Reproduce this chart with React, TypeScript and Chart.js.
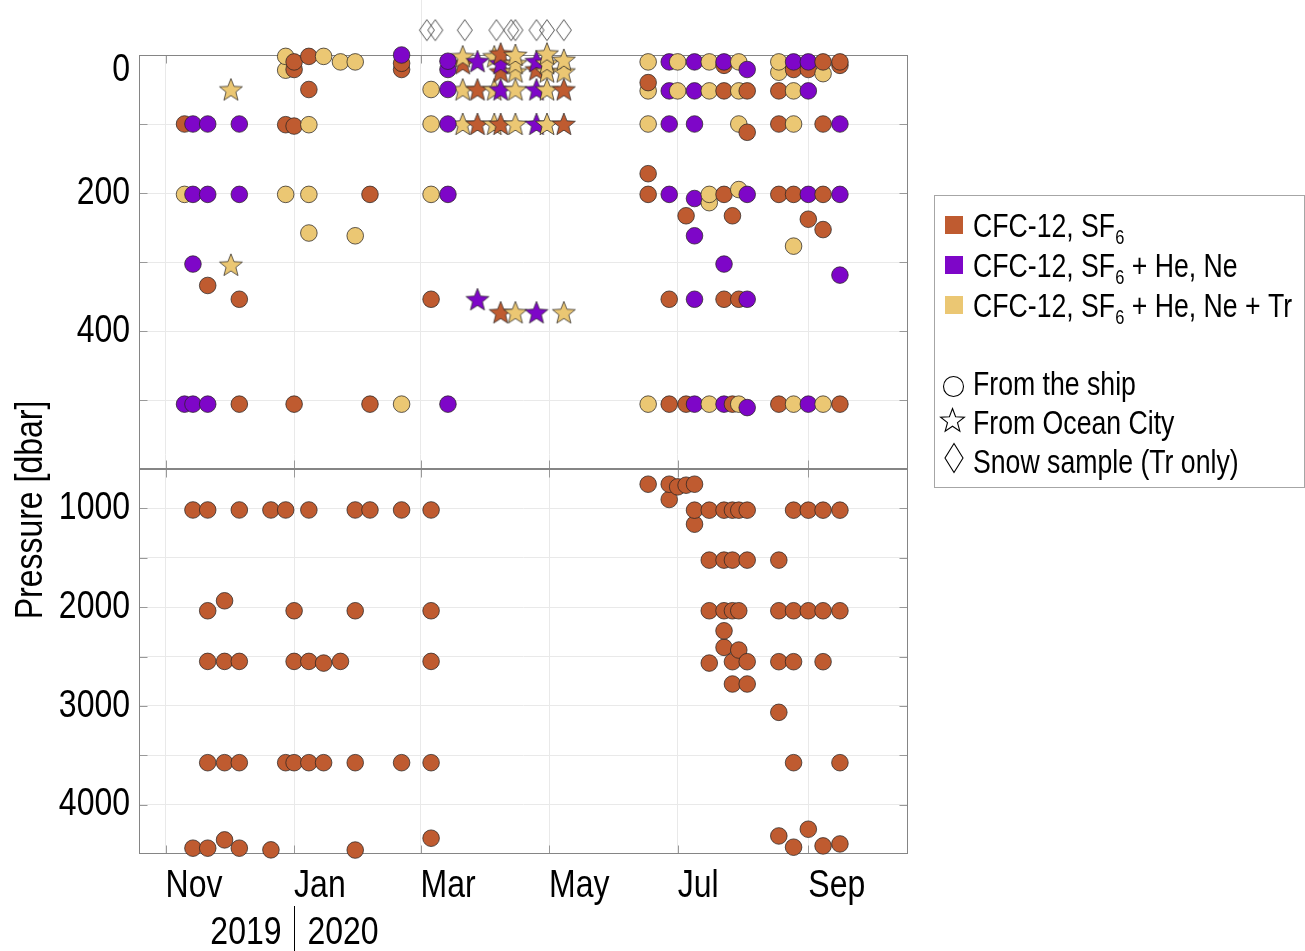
import React, { useEffect, useRef } from 'react';
import { Chart, registerables } from 'chart.js';

Chart.register(...registerables);

type Sample = [string, number];

// ---------------- data (date, pressure in dbar) ----------------
// Ship samples (circles)
const shipCfc: Sample[] = [
  ['2019-11-10', 100], ['2019-11-21', 334], ['2019-12-06', 354], ['2019-12-06', 506],
  ['2019-12-28', 101], ['2020-01-01', 10], ['2020-01-01', 21], ['2020-01-01', 103], ['2020-01-01', 506],
  ['2020-01-08', 2], ['2020-01-08', 50], ['2020-02-06', 202], ['2020-02-06', 506],
  ['2020-02-21', 12], ['2020-02-21', 21], ['2020-03-06', 354],
  ['2020-06-17', 40], ['2020-06-17', 172], ['2020-06-17', 202],
  ['2020-06-27', 354], ['2020-06-27', 506], ['2020-07-05', 233], ['2020-07-05', 506],
  ['2020-07-23', 15], ['2020-07-23', 52], ['2020-07-23', 202], ['2020-07-23', 354],
  ['2020-07-27', 233], ['2020-07-27', 506], ['2020-07-30', 354],
  ['2020-08-03', 52], ['2020-08-03', 112],
  ['2020-08-18', 52], ['2020-08-18', 100], ['2020-08-18', 202], ['2020-08-18', 506],
  ['2020-08-25', 21], ['2020-08-25', 202], ['2020-09-01', 21], ['2020-09-01', 238],
  ['2020-09-08', 10], ['2020-09-08', 100], ['2020-09-08', 202], ['2020-09-08', 253],
  ['2020-09-16', 10], ['2020-09-16', 15], ['2020-09-16', 506],
  // deep
  ['2019-11-14', 1015], ['2019-11-14', 4441],
  ['2019-11-21', 1015], ['2019-11-21', 2036], ['2019-11-21', 2549], ['2019-11-21', 3575], ['2019-11-21', 4441],
  ['2019-11-29', 1935], ['2019-11-29', 2549], ['2019-11-29', 3575], ['2019-11-29', 4357],
  ['2019-12-06', 1015], ['2019-12-06', 2549], ['2019-12-06', 3575], ['2019-12-06', 4441],
  ['2019-12-21', 1015], ['2019-12-21', 4458], ['2019-12-28', 1015], ['2019-12-28', 3575],
  ['2020-01-01', 2036], ['2020-01-01', 2549], ['2020-01-01', 3575],
  ['2020-01-08', 1015], ['2020-01-08', 2549], ['2020-01-08', 3575],
  ['2020-01-15', 2566], ['2020-01-15', 3575], ['2020-01-23', 2549],
  ['2020-01-30', 1015], ['2020-01-30', 2036], ['2020-01-30', 3575], ['2020-01-30', 4460],
  ['2020-02-06', 1015], ['2020-02-21', 1015], ['2020-02-21', 3575],
  ['2020-03-06', 1015], ['2020-03-06', 2036], ['2020-03-06', 2549], ['2020-03-06', 3575], ['2020-03-06', 4340],
  ['2020-06-17', 754], ['2020-06-27', 754], ['2020-06-27', 909], ['2020-07-01', 781], ['2020-07-05', 764],
  ['2020-07-09', 754], ['2020-07-09', 1017], ['2020-07-09', 1159],
  ['2020-07-16', 1017], ['2020-07-16', 1523], ['2020-07-16', 2036], ['2020-07-16', 2566],
  ['2020-07-23', 1017], ['2020-07-23', 1523], ['2020-07-23', 2036], ['2020-07-23', 2239], ['2020-07-23', 2407],
  ['2020-07-27', 1017], ['2020-07-27', 1523], ['2020-07-27', 2036], ['2020-07-27', 2552], ['2020-07-27', 2778],
  ['2020-07-30', 1017], ['2020-07-30', 2036], ['2020-07-30', 2434],
  ['2020-08-03', 1017], ['2020-08-03', 1523], ['2020-08-03', 2552], ['2020-08-03', 2778],
  ['2020-08-18', 1523], ['2020-08-18', 2036], ['2020-08-18', 2552], ['2020-08-18', 3065], ['2020-08-18', 4317],
  ['2020-08-25', 1017], ['2020-08-25', 2036], ['2020-08-25', 2552], ['2020-08-25', 3575], ['2020-08-25', 4431],
  ['2020-09-01', 1017], ['2020-09-01', 2036], ['2020-09-01', 4249],
  ['2020-09-08', 1017], ['2020-09-08', 2036], ['2020-09-08', 2552], ['2020-09-08', 4418],
  ['2020-09-16', 1017], ['2020-09-16', 2036], ['2020-09-16', 3575], ['2020-09-16', 4398],
];

const shipHeNe: Sample[] = [
  ['2019-11-10', 506],
  ['2019-11-14', 100], ['2019-11-14', 202], ['2019-11-14', 303], ['2019-11-14', 506],
  ['2019-11-21', 100], ['2019-11-21', 202], ['2019-11-21', 506],
  ['2019-12-06', 100], ['2019-12-06', 202], ['2020-02-21', 0],
  ['2020-03-14', 9], ['2020-03-14', 21], ['2020-03-14', 50], ['2020-03-14', 100], ['2020-03-14', 202], ['2020-03-14', 506],
  ['2020-06-27', 10], ['2020-06-27', 52], ['2020-06-27', 100], ['2020-06-27', 202],
  ['2020-07-09', 10], ['2020-07-09', 52], ['2020-07-09', 100], ['2020-07-09', 208], ['2020-07-09', 262], ['2020-07-09', 354], ['2020-07-09', 506],
  ['2020-07-23', 10], ['2020-07-23', 303], ['2020-07-23', 506],
  ['2020-08-03', 21], ['2020-08-03', 202], ['2020-08-03', 354], ['2020-08-03', 511],
  ['2020-08-25', 10], ['2020-09-01', 10], ['2020-09-01', 52], ['2020-09-01', 202], ['2020-09-01', 506],
  ['2020-09-16', 100], ['2020-09-16', 202], ['2020-09-16', 319],
];

const shipTr: Sample[] = [
  ['2019-11-10', 202], ['2019-12-28', 2], ['2019-12-28', 22], ['2019-12-28', 202],
  ['2020-01-08', 101], ['2020-01-08', 202], ['2020-01-08', 258], ['2020-01-15', 2], ['2020-01-23', 10],
  ['2020-01-30', 10], ['2020-01-30', 262], ['2020-02-21', 506],
  ['2020-03-06', 50], ['2020-03-06', 100], ['2020-03-06', 202],
  ['2020-06-17', 10], ['2020-06-17', 52], ['2020-06-17', 100], ['2020-06-17', 506],
  ['2020-07-01', 10], ['2020-07-01', 52],
  ['2020-07-16', 10], ['2020-07-16', 52], ['2020-07-16', 202], ['2020-07-16', 214], ['2020-07-16', 506],
  ['2020-07-30', 10], ['2020-07-30', 52], ['2020-07-30', 100], ['2020-07-30', 195], ['2020-07-30', 506],
  ['2020-08-18', 10], ['2020-08-18', 25],
  ['2020-08-25', 52], ['2020-08-25', 100], ['2020-08-25', 277], ['2020-08-25', 506],
  ['2020-09-08', 27], ['2020-09-08', 506],
];

// Ocean City samples (stars)
const cityCfc: Sample[] = [
  ['2020-03-21', 12], ['2020-03-28', 50], ['2020-03-28', 100],
  ['2020-04-08', -2], ['2020-04-08', 24], ['2020-04-08', 100], ['2020-04-08', 373],
  ['2020-04-25', 21], ['2020-05-08', 50], ['2020-05-08', 100],
];
const cityHeNe: Sample[] = [
  ['2020-03-28', 9], ['2020-03-28', 354], ['2020-04-08', 12], ['2020-04-08', 50],
  ['2020-04-25', 9], ['2020-04-25', 50], ['2020-04-25', 100], ['2020-04-25', 373],
];
const cityTr: Sample[] = [
  ['2019-12-02', 50], ['2019-12-02', 304],
  ['2020-03-21', 2], ['2020-03-21', 50], ['2020-03-21', 100],
  ['2020-04-05', 2], ['2020-04-05', 50], ['2020-04-05', 100],
  ['2020-04-15', 0], ['2020-04-15', 12], ['2020-04-15', 24], ['2020-04-15', 50], ['2020-04-15', 100], ['2020-04-15', 373],
  ['2020-04-30', -2], ['2020-04-30', 12], ['2020-04-30', 24], ['2020-04-30', 50], ['2020-04-30', 100],
  ['2020-05-08', 7], ['2020-05-08', 24], ['2020-05-08', 373],
];

// Snow samples (diamonds, drawn above the surface)
const snowDates: string[] = [
  '2020-03-04', '2020-03-08', '2020-03-22', '2020-04-06', '2020-04-13',
  '2020-04-15', '2020-04-25', '2020-04-30', '2020-05-08',
];
const SNOW_PRESSURE = -36;

// Axes
const xTickDates = ['2019-11-01', '2020-01-01', '2020-03-01', '2020-05-01', '2020-07-01', '2020-09-01'];
const xTickLabels = ['Nov', 'Jan', 'Mar', 'May', 'Jul', 'Sep'];
const yearLabels = ['2019', '2020'];
const yearBoundary = '2020-01-01';
const topTickValues = [0, 100, 200, 300, 400, 500, 600];
const topTickLabels = ['0', '', '200', '', '400', '', ''];
const bottomTickValues = [1000, 1500, 2000, 2500, 3000, 3500, 4000];
const bottomTickLabels = ['1000', '', '2000', '', '3000', '', '4000'];
const yTitle = 'Pressure [dbar]';

// Legend
const legendSeries = [
  { main: 'CFC-12, SF', sub: '6', rest: '' },
  { main: 'CFC-12, SF', sub: '6', rest: ' + He, Ne' },
  { main: 'CFC-12, SF', sub: '6', rest: ' + He, Ne + Tr' },
];
const legendShapes = ['From the ship', 'From Ocean City', 'Snow sample (Tr only)'];

const C_CFC = '#BF5B30';
const C_HENE = '#7E06C8';
const C_TR = '#EBC773';
const seriesColors = [C_CFC, C_HENE, C_TR];
const EDGE = 'rgba(40,36,34,0.92)';

// ---------------- helpers ----------------
const EPOCH = Date.UTC(2019, 10, 1);
const toDay = (s: string) => {
  const [y, m, d] = s.split('-').map(Number);
  return (Date.UTC(y, m - 1, d) - EPOCH) / 864e5;
};
const X_MIN = -12.6;
const X_MAX = 352.3;

const FAMILY = '"Liberation Sans", Arial, sans-serif';
const NARROW = 0.82;

interface P { x: number; y: number; color: string }
const mk = (list: Sample[], color: string): P[] => list.map(([d, p]) => ({ x: toDay(d), y: p, color }));
const order = (a: P, b: P) => a.x - b.x || b.y - a.y;

function starPath(g: CanvasRenderingContext2D, cx: number, cy: number, R: number, r: number) {
  g.beginPath();
  for (let i = 0; i < 10; i++) {
    const a = -Math.PI / 2 + (i * Math.PI) / 5;
    const rr = i % 2 ? r : R;
    const px = cx + rr * Math.cos(a);
    const py = cy + rr * Math.sin(a);
    if (i === 0) g.moveTo(px, py); else g.lineTo(px, py);
  }
  g.closePath();
}
function diamondPath(g: CanvasRenderingContext2D, cx: number, cy: number, hw: number, hh: number) {
  g.beginPath();
  g.moveTo(cx, cy - hh);
  g.lineTo(cx + hw, cy);
  g.lineTo(cx, cy + hh);
  g.lineTo(cx - hw, cy);
  g.closePath();
}
function starCanvas(fill: string) {
  const R = 12;
  const size = 28;
  const c = document.createElement('canvas');
  c.width = size; c.height = size;
  const g = c.getContext('2d')!;
  starPath(g, size / 2, size / 2 + 1, R, R * 0.43);
  g.fillStyle = fill; g.fill();
  g.lineWidth = 0.8; g.strokeStyle = EDGE; g.stroke();
  return c;
}
function diamondCanvas() {
  const c = document.createElement('canvas');
  c.width = 18; c.height = 24;
  const g = c.getContext('2d')!;
  diamondPath(g, 9, 12, 7.5, 10.5);
  g.lineWidth = 1; g.strokeStyle = '#555'; g.stroke();
  return c;
}

// narrow text: Liberation Sans compressed horizontally
function nText(
  ctx: CanvasRenderingContext2D, text: string, x: number, y: number, size: number,
  align: CanvasTextAlign = 'left', baseline: CanvasTextBaseline = 'middle',
) {
  ctx.save();
  ctx.translate(x, y);
  ctx.scale(NARROW, 1);
  ctx.font = `${size}px ${FAMILY}`;
  ctx.textAlign = align;
  ctx.textBaseline = baseline;
  ctx.fillText(text, 0, 0);
  const w = ctx.measureText(text).width * NARROW;
  ctx.restore();
  return w;
}

export default function App() {
  const ref = useRef<HTMLCanvasElement>(null);

  useEffect(() => {
    const canvas = ref.current!;

    const ship = [...mk(shipCfc, C_CFC), ...mk(shipHeNe, C_HENE), ...mk(shipTr, C_TR)].sort(order);
    const shipTop = ship.filter(p => p.y <= 600);
    const shipBot = ship.filter(p => p.y > 600);
    const city = [...mk(cityCfc, C_CFC), ...mk(cityHeNe, C_HENE), ...mk(cityTr, C_TR)].sort(order);
    const stars: Record<string, HTMLCanvasElement> = {
      [C_CFC]: starCanvas(C_CFC), [C_HENE]: starCanvas(C_HENE), [C_TR]: starCanvas(C_TR),
    };
    const diamond = diamondCanvas();

    const gridColor = '#e9e9e9';
    const TICK = 39;
    const LEG = 32.5;

    const decor = {
      id: 'decor',
      beforeDatasetsDraw(chart: any) {
        const { ctx } = chart;
        const xs = chart.scales.x;
        ctx.save();
        for (const id of ['yTop', 'yBot']) {
          const ys = chart.scales[id];
          const l = Math.round(xs.left) + 0.5, r = Math.round(xs.right) - 0.5;
          const t = Math.round(ys.top) + 0.5, b = Math.round(ys.bottom) - 0.5;
          ctx.strokeStyle = '#999';
          ctx.lineWidth = 1;
          ctx.beginPath();
          xs.ticks.forEach((tk: any) => {
            const px = Math.round(xs.getPixelForValue(tk.value)) + 0.5;
            ctx.moveTo(px, t); ctx.lineTo(px, t + 8);
            ctx.moveTo(px, b); ctx.lineTo(px, b - 8);
          });
          ys.ticks.forEach((tk: any) => {
            const py = Math.round(ys.getPixelForValue(tk.value)) + 0.5;
            ctx.moveTo(l, py); ctx.lineTo(l + 8, py);
            ctx.moveTo(r, py); ctx.lineTo(r - 8, py);
          });
          ctx.stroke();
          ctx.strokeStyle = '#858585';
          ctx.strokeRect(l, t, r - l, b - t);
        }
        ctx.restore();
      },
      afterDatasetsDraw(chart: any) {
        const { ctx } = chart;
        const xs = chart.scales.x;
        const ys = chart.scales.yTop;
        ctx.save();
        ctx.strokeStyle = gridColor;
        ctx.lineWidth = 1;
        const mx = Math.round(xs.getPixelForValue(toDay('2020-03-01'))) + 0.5;
        ctx.beginPath(); ctx.moveTo(mx, 0); ctx.lineTo(mx, ys.top); ctx.stroke();
        const area = { left: 0, top: 0, right: chart.width, bottom: chart.height };
        chart.getDatasetMeta(3).data.forEach((el: any) => el.draw(ctx, area));
        ctx.restore();
      },
      afterDraw(chart: any) {
        const { ctx } = chart;
        const xs = chart.scales.x;
        const yt = chart.scales.yTop;
        const yb = chart.scales.yBot;
        ctx.save();
        ctx.fillStyle = '#000';
        // x tick labels (start-aligned at tick)
        xs.ticks.forEach((tk: any, i: number) => {
          nText(ctx, xTickLabels[i], xs.getPixelForValue(tk.value), xs.top + 32, TICK, 'left');
        });
        // y tick labels
        topTickValues.forEach((v, i) => {
          if (!topTickLabels[i]) return;
          let py = yt.getPixelForValue(v);
          if (i === 0) py = yt.top + 15; // label kept inside the axis box
          nText(ctx, topTickLabels[i], yt.right - 9, py, TICK, 'right');
        });
        bottomTickValues.forEach((v, i) => {
          if (!bottomTickLabels[i]) return;
          nText(ctx, bottomTickLabels[i], yb.right - 9, yb.getPixelForValue(v), TICK, 'right');
        });
        // years
        const jx = Math.round(xs.getPixelForValue(toDay(yearBoundary))) + 0.5;
        nText(ctx, yearLabels[0], jx - 13, 933, TICK, 'right');
        nText(ctx, yearLabels[1], jx + 13, 933, TICK, 'left');
        ctx.strokeStyle = '#000';
        ctx.lineWidth = 1;
        ctx.beginPath(); ctx.moveTo(jx, 906); ctx.lineTo(jx, 951); ctx.stroke();
        // y title
        ctx.save();
        ctx.translate(31, 510);
        ctx.rotate(-Math.PI / 2);
        nText(ctx, yTitle, 0, 0, TICK, 'center');
        ctx.restore();
        // legend
        ctx.strokeStyle = '#a6a6a6';
        ctx.lineWidth = 1;
        ctx.strokeRect(934.5, 195.5, 370, 292);
        legendSeries.forEach((s, i) => {
          const cy = 225 + 40 * i;
          ctx.fillStyle = seriesColors[i];
          ctx.fillRect(945, cy - 9, 18, 18);
          ctx.fillStyle = '#000';
          const base = cy + 12;
          let x = 973;
          x += nText(ctx, s.main, x, base, LEG, 'left', 'alphabetic');
          x += nText(ctx, s.sub, x, base + 7, 20, 'left', 'alphabetic');
          if (s.rest) nText(ctx, s.rest, x, base, LEG, 'left', 'alphabetic');
        });
        const shapeBase = [395, 434, 473];
        ctx.lineWidth = 1.1;
        ctx.strokeStyle = '#000';
        ctx.fillStyle = '#fff';
        ctx.beginPath(); ctx.arc(953.5, 386.5, 10, 0, Math.PI * 2); ctx.fill(); ctx.stroke();
        starPath(ctx, 952.5, 421, 12.5, 12.5 * 0.42); ctx.fill(); ctx.stroke();
        diamondPath(ctx, 954, 458, 9, 14.5); ctx.fill(); ctx.stroke();
        ctx.fillStyle = '#000';
        legendShapes.forEach((t, i) => nText(ctx, t, 973, shapeBase[i], LEG, 'left', 'alphabetic'));
        ctx.restore();
      },
    };

    const chart = new Chart(canvas, {
      type: 'scatter',
      data: {
        datasets: [
          {
            label: 'ship-top',
            data: shipTop.map(p => ({ x: p.x, y: p.y })),
            yAxisID: 'yTop',
            pointRadius: 8.3,
            pointBackgroundColor: shipTop.map(p => p.color),
            pointBorderColor: EDGE,
            pointBorderWidth: 0.8,
            clip: false,
          },
          {
            label: 'ship-bottom',
            data: shipBot.map(p => ({ x: p.x, y: p.y })),
            yAxisID: 'yBot',
            pointRadius: 8.3,
            pointBackgroundColor: shipBot.map(p => p.color),
            pointBorderColor: EDGE,
            pointBorderWidth: 0.8,
            clip: false,
          },
          {
            label: 'city',
            data: city.map(p => ({ x: p.x, y: p.y })),
            yAxisID: 'yTop',
            pointStyle: city.map(p => stars[p.color]) as any,
            pointRadius: 11,
            clip: false,
          },
          {
            label: 'snow',
            data: snowDates.map(d => ({ x: toDay(d), y: SNOW_PRESSURE })),
            yAxisID: 'yTop',
            pointStyle: diamond as any,
            pointRadius: 10,
            clip: false,
          },
        ],
      } as any,
      options: {
        responsive: false,
        animation: false,
        events: [],
        layout: { padding: { top: 55, left: 0, right: 397, bottom: 37 } },
        plugins: { legend: { display: false }, tooltip: { enabled: false } },
        scales: {
          x: {
            type: 'linear',
            min: X_MIN,
            max: X_MAX,
            afterBuildTicks: (s: any) => { s.ticks = xTickDates.map(d => ({ value: toDay(d) })); },
            afterFit: (s: any) => { s.height = 60; },
            ticks: { display: false, autoSkip: false },
            grid: { color: gridColor, drawTicks: false },
            border: { display: false },
          },
          yBot: {
            type: 'linear',
            position: 'left',
            stack: 'p',
            stackWeight: 385,
            reverse: true,
            min: 600,
            max: 4500,
            afterBuildTicks: (s: any) => { s.ticks = bottomTickValues.map(v => ({ value: v })); },
            afterFit: (s: any) => { s.width = 139; },
            ticks: { display: false, autoSkip: false },
            grid: { color: gridColor, drawTicks: false },
            border: { display: false },
          },
          yTop: {
            type: 'linear',
            position: 'left',
            stack: 'p',
            stackWeight: 414,
            reverse: true,
            min: 0,
            max: 600,
            afterBuildTicks: (s: any) => { s.ticks = topTickValues.map(v => ({ value: v })); },
            afterFit: (s: any) => { s.width = 139; },
            ticks: { display: false, autoSkip: false },
            grid: { color: gridColor, drawTicks: false },
            border: { display: false },
          },
        },
      } as any,
      plugins: [decor],
    });

    return () => chart.destroy();
  }, []);

  return (
    <canvas
      ref={ref}
      width={1305}
      height={951}
      style={{ position: 'absolute', left: 0, top: 0, width: 1305, height: 951 }}
    />
  );
}
